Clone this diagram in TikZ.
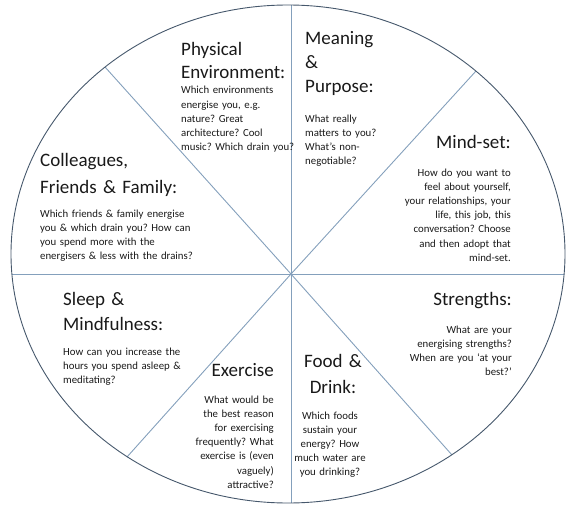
\documentclass[tikz,border=0pt]{standalone}
\usepackage{fontspec}
\setmainfont{Carlito}
\usepackage{xcolor}
\usetikzlibrary{positioning,calc}

\definecolor{rimgrey}{RGB}{70,88,108}
\definecolor{spokeblue}{RGB}{132,160,188}
\definecolor{inkgrey}{RGB}{25,25,25}

\begin{document}
\frenchspacing
\begin{tikzpicture}[x=1pt,y=-1pt,
    head/.style={inner sep=0pt,text width=170pt,text=inkgrey,
                 font=\fontsize{19}{24}\selectfont},
    ques/.style={inner sep=0pt,text width=170pt,text=inkgrey,
                 font=\fontsize{10.8}{14.2}\selectfont},
    spoke/.style={draw=spokeblue,line width=0.9pt}]
    \useasboundingbox (0,0) rectangle (576,519);
    % wheel
    \coordinate (O) at (291,274);
    \coordinate (N) at (291,5);
    \coordinate (S) at (291,503);
    \coordinate (W) at (12,274);
    \coordinate (E) at (564,274);
    \coordinate (NW) at (105,67);
    \coordinate (NE) at (476,71);
    \coordinate (SW) at (127,457);
    \coordinate (SE) at (452,455);
    \foreach \p in {N,S,W,E,NW,NE,SW,SE}
      \draw[spoke] (O) -- (\p);
    \draw[rimgrey,line width=0.9pt] (288,254) ellipse [x radius=277pt,y radius=249pt];
    % segments
    \node[head,anchor=base west,align=left,font=\fontsize{19}{23}\selectfont] (phys) at (181,56) {Physical\\Environment:};
    \node[ques,anchor=base west,align=left] (physq) at (181,94) {Which environments\\energise you, e.g.\\nature? Great\\architecture? Cool\\music? Which drain you?};
    \node[head,anchor=base west,align=left] (mean) at (305,45) {Meaning\\\&\\Purpose:};
    \node[ques,anchor=base west,align=left] (meanq) at (305,122) {What really\\matters to you?\\What’s non-\\negotiable?};
    \node[head,anchor=base east,align=right] (mind) at (511,148) {Mind-set:};
    \node[ques,anchor=base east,align=right] (mindq) at (511,176) {How do you want to\\feel about yourself,\\your relationships, your\\life, this job, this\\conversation? Choose\\and then adopt that\\mind-set.};
    \node[head,anchor=base west,align=left,font=\fontsize{19}{27}\selectfont] (coll) at (40,166) {Colleagues,\\Friends \& Family:};
    \node[ques,anchor=base west,align=left] (collq) at (40,217) {Which friends \& family energise\\you \& which drain you? How can\\you spend more with the\\energisers \& less with the drains?};
    \node[head,anchor=base west,align=left,font=\fontsize{19}{25}\selectfont] (sleep) at (63,305) {Sleep \&\\Mindfulness:};
    \node[ques,anchor=base west,align=left] (sleepq) at (63,355) {How can you increase the\\hours you spend asleep \&\\meditating?};
    \node[head,anchor=base east,align=right] (exer) at (274,376) {Exercise};
    \node[ques,anchor=base east,align=right] (exerq) at (274,403) {What would be\\the best reason\\for exercising\\frequently? What\\exercise is (even\\vaguely)\\attractive?};
    \node[head,anchor=base,align=center,font=\fontsize{19}{26}\selectfont] (food) at (333,367) {Food \&\\Drink:};
    \node[ques,anchor=base,align=center] (foodq) at (330,419) {Which foods\\sustain your\\energy? How\\much water are\\you drinking?};
    \node[head,anchor=base east,align=right] (str) at (512,305) {Strengths:};
    \node[ques,anchor=base east,align=right] (strq) at (512,333) {What are your\\energising strengths?\\When are you ‘at your\\best?’};
\end{tikzpicture}
\end{document}
